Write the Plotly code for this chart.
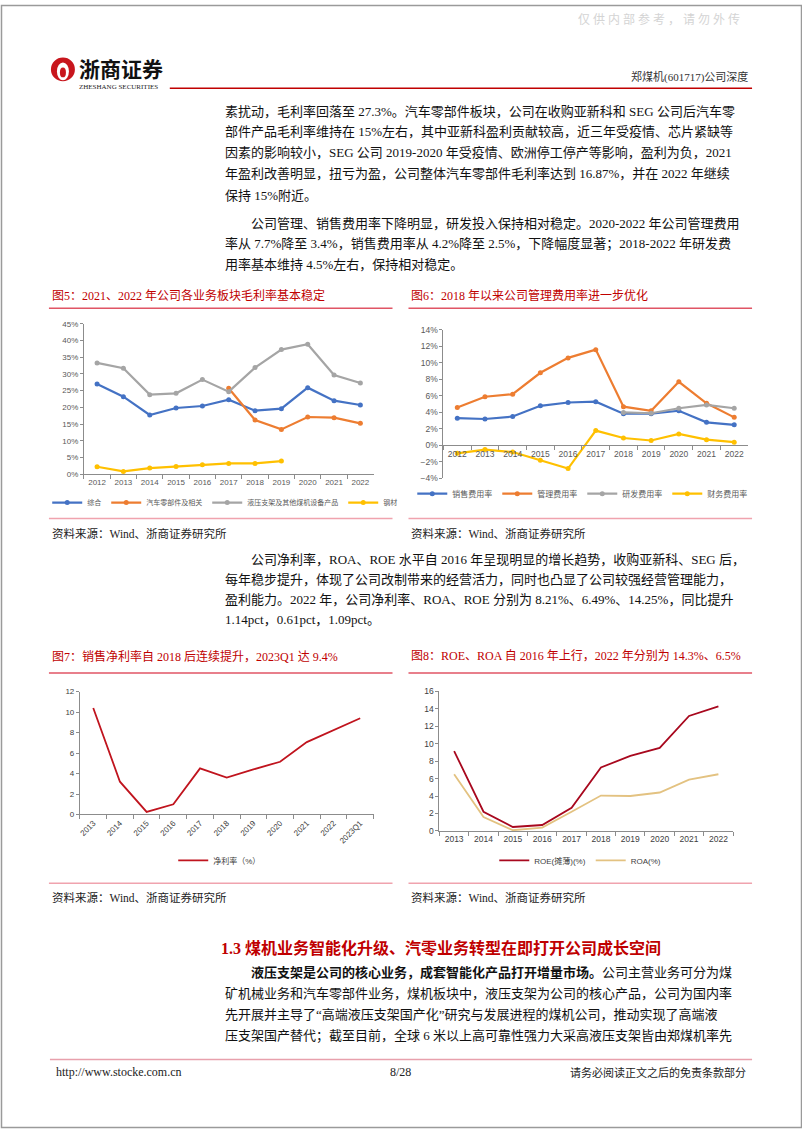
import plotly.graph_objects as go

W, H = 802, 1133
def fx(x): return x / W
def fy(y): return 1 - y / H

# ---------------- data ----------------
years_a = ["2012", "2013", "2014", "2015", "2016", "2017", "2018", "2019", "2020", "2021", "2022"]
gm_total = [27.0, 23.2, 17.7, 19.8, 20.4, 22.3, 19.0, 19.6, 25.9, 22.0, 20.7]
gm_auto = [None, None, None, None, None, 25.7, 16.2, 13.4, 17.1, 16.9, 15.2]
gm_coal = [33.3, 31.7, 23.8, 24.2, 28.3, 24.7, 31.9, 37.3, 38.9, 29.7, 27.3]
gm_steel = [2.2, 0.8, 1.8, 2.3, 2.8, 3.2, 3.2, 3.9, None, None, None]
gm_names = ["综合", "汽车零部件及相关", "液压支架及其他煤机设备产品", "钢材"]

exp_sales = [3.3, 3.2, 3.5, 4.8, 5.2, 5.3, 3.85, 3.85, 4.2, 2.8, 2.5]
exp_admin = [4.6, 5.9, 6.2, 8.8, 10.6, 11.6, 4.7, 4.2, 7.7, 5.1, 3.4]
exp_rd = [None, None, None, None, None, None, 4.0, 3.9, 4.5, 4.9, 4.5]
exp_fin = [-0.95, -0.5, -0.8, -1.8, -2.8, 1.8, 0.9, 0.6, 1.4, 0.7, 0.4]
exp_names = ["销售费用率", "管理费用率", "研发费用率", "财务费用率"]

years_c = ["2013", "2014", "2015", "2016", "2017", "2018", "2019", "2020", "2021", "2022", "2023Q1"]
net_margin = [10.4, 3.2, 0.25, 1.0, 4.5, 3.6, 4.4, 5.15, 7.07, 8.21, 9.4]

years_d = ["2013", "2014", "2015", "2016", "2017", "2018", "2019", "2020", "2021", "2022"]
roe = [9.15, 2.2, 0.45, 0.68, 2.65, 7.26, 8.6, 9.5, 13.16, 14.25]
roa = [6.5, 1.6, 0.08, 0.38, 2.2, 4.05, 4.0, 4.4, 5.88, 6.49]

# ---------------- styles ----------------
BLUE, ORANGE, GRAY, GOLD = "#4472C4", "#ED7D31", "#A5A5A5", "#FFC000"
RED = "#C00000"
SERIF = "Liberation Serif, Noto Sans CJK SC"
SANS = "Liberation Sans, Noto Sans CJK SC"
TICK5 = dict(size=8, color="#595959", family=SANS)

fig = go.Figure()

for name, vals, col in zip(gm_names, [gm_total, gm_auto, gm_coal, gm_steel], [BLUE, ORANGE, GRAY, GOLD]):
    fig.add_trace(go.Scatter(x=years_a, y=vals, name=name, mode="lines+markers",
                             line=dict(color=col, width=2.2), marker=dict(size=5, color=col),
                             xaxis="x", yaxis="y", legend="legend"))

for name, vals, col in zip(exp_names, [exp_sales, exp_admin, exp_rd, exp_fin], [BLUE, ORANGE, GRAY, GOLD]):
    fig.add_trace(go.Scatter(x=years_a, y=vals, name=name, mode="lines+markers",
                             line=dict(color=col, width=2.2), marker=dict(size=5, color=col),
                             xaxis="x2", yaxis="y2", legend="legend2"))

fig.add_trace(go.Scatter(x=years_c, y=net_margin, name="净利率（%）", mode="lines",
                         line=dict(color="#C0141E", width=1.8), xaxis="x3", yaxis="y3", legend="legend3"))

fig.add_trace(go.Scatter(x=years_d, y=roe, name="ROE(摊薄)(%)", mode="lines",
                         line=dict(color="#A8081E", width=1.8), xaxis="x4", yaxis="y4", legend="legend4"))
fig.add_trace(go.Scatter(x=years_d, y=roa, name="ROA(%)", mode="lines",
                         line=dict(color="#E3C281", width=1.8), xaxis="x4", yaxis="y4", legend="legend4"))

def xax(d0, d1, n, **kw):
    a = dict(domain=[fx(d0), fx(d1)], type="category", range=[-0.5, n - 0.5], showline=True,
             linecolor="#8c8c8c", linewidth=1, ticks="outside", tickson="boundaries", ticklen=4,
             tickcolor="#8c8c8c", showgrid=False, zeroline=False, tickfont=TICK5, fixedrange=True,
             tickangle=0)
    a.update(kw)
    return a

def yax(top, bot, rng, dt, **kw):
    a = dict(domain=[fy(bot), fy(top)], range=rng, dtick=dt, showline=True, linecolor="#8c8c8c",
             linewidth=1, ticks="outside", ticklen=3, tickcolor="#8c8c8c", showgrid=False,
             zeroline=False, tickfont=TICK5, fixedrange=True)
    a.update(kw)
    return a

zero6 = 477.7 - (477.7 - 327.7) * 4 / 18

layout = dict(
    width=W, height=H, autosize=False, margin=dict(l=0, r=0, t=0, b=0),
    paper_bgcolor="white", plot_bgcolor="white",
    xaxis=xax(83, 373, 11, anchor="y"),
    yaxis=yax(321.7, 473.3, [0, 45], 5, anchor="x", ticksuffix="%"),
    xaxis2=xax(443, 748, 11, anchor="free", position=fy(zero6), tickfont=dict(size=8.5, color="#595959", family=SANS)),
    yaxis2=yax(327.7, 477.7, [-4, 14], 2, anchor="x2", ticksuffix="%", tickfont=dict(size=8.5, color="#595959", family=SANS)),
    xaxis3=xax(79, 373, 11, anchor="y3", tickangle=-45, tickfont=dict(size=8, color="#404040", family=SANS)),
    yaxis3=yax(692.7, 816.7, [0, 12], 2, anchor="x3", tickfont=dict(size=8, color="#404040", family=SANS)),
    xaxis4=xax(439, 733, 10, anchor="y4", tickfont=dict(size=8.5, color="#404040", family=SANS)),
    yaxis4=yax(692.3, 833.3, [0, 16], 2, anchor="x4", tickfont=dict(size=8.5, color="#404040", family=SANS)),
)

def leg(x, y, size=8, color="#595959"):
    return dict(x=fx(x), y=fy(y), xanchor="center", yanchor="middle", orientation="h",
                font=dict(size=size, color=color, family=SANS), bgcolor="rgba(0,0,0,0)",
                itemwidth=30, tracegroupgap=0)

layout["legend"] = leg(224, 502, 7)
layout["legend2"] = leg(582, 493, 8)
layout["legend3"] = leg(219, 863, 8, "#404040")
layout["legend4"] = leg(580, 863, 8, "#404040")
layout["showlegend"] = True

ann = []
def txt(x, y, s, size=13, color="#111111", anchor="left", family=SERIF):
    ann.append(dict(x=fx(x), y=fy(y), xref="paper", yref="paper", text=s, showarrow=False,
                    xanchor=anchor, yanchor="middle", font=dict(size=size, color=color, family=family)))

# header
txt(742, 15, "仅 供 内 部 参 考 ， 请 勿 外 传", 12, "#d4d4d4", "right")
txt(76, 64, "<b>浙商证券</b>", 21, "#111111", "left", "Noto Sans CJK SC")
txt(76, 83, "ZHESHANG SECURITIES", 7, "#222222", "left", "Liberation Serif")
txt(750, 73, "郑煤机(601717)公司深度", 11, "#333333", "right")

# paragraph 1 & 2
P = 222
IND = 248
para1 = [
    "素扰动，毛利率回落至 27.3%。汽车零部件板块，公司在收购亚新科和 SEG 公司后汽车零",
    "部件产品毛利率维持在 15%左右，其中亚新科盈利贡献较高，近三年受疫情、芯片紧缺等",
    "因素的影响较小，SEG 公司 2019-2020 年受疫情、欧洲停工停产等影响，盈利为负，2021",
    "年盈利改善明显，扭亏为盈，公司整体汽车零部件毛利率达到 16.87%，并在 2022 年继续",
    "保持 15%附近。",
]
for s, y in zip(para1, [107, 128, 149, 170, 192]):
    txt(P, y, s)
para2 = [
    "公司管理、销售费用率下降明显，研发投入保持相对稳定。2020-2022 年公司管理费用",
    "率从 7.7%降至 3.4%，销售费用率从 4.2%降至 2.5%，下降幅度显著；2018-2022 年研发费",
    "用率基本维持 4.5%左右，保持相对稳定。",
]
for i, (s, y) in enumerate(zip(para2, [220, 241, 262])):
    txt(IND if i == 0 else P, y, s)

# figure titles / sources
txt(49, 293, "图5：2021、2022 年公司各业务板块毛利率基本稳定", 12, RED)
txt(409, 293, "图6：2018 年以来公司管理费用率进一步优化", 12, RED)
txt(49, 533, "资料来源：Wind、浙商证券研究所", 11.5, "#222222")
txt(409, 533, "资料来源：Wind、浙商证券研究所", 11.5, "#222222")

para3 = [
    "公司净利率，ROA、ROE 水平自 2016 年呈现明显的增长趋势，收购亚新科、SEG 后，",
    "每年稳步提升，体现了公司改制带来的经营活力，同时也凸显了公司较强经营管理能力，",
    "盈利能力。2022 年，公司净利率、ROA、ROE 分别为 8.21%、6.49%、14.25%，同比提升",
    "1.14pct，0.61pct，1.09pct。",
]
for i, (s, y) in enumerate(zip(para3, [559, 580, 600, 620])):
    txt(IND if i == 0 else P, y, s)

txt(49, 657, "图7：销售净利率自 2018 后连续提升，2023Q1 达 9.4%", 12, RED)
txt(409, 657, "图8：ROE、ROA 自 2016 年上行，2022 年分别为 14.3%、6.5%", 12, RED)
txt(49, 900, "资料来源：Wind、浙商证券研究所", 11.5, "#222222")
txt(409, 900, "资料来源：Wind、浙商证券研究所", 11.5, "#222222")

txt(218, 951, "<b>1.3 煤机业务智能化升级、汽零业务转型在即打开公司成长空间</b>", 16, RED)
para4 = [
    "<b>液压支架是公司的核心业务，成套智能化产品打开增量市场。</b>公司主营业务可分为煤",
    "矿机械业务和汽车零部件业务，煤机板块中，液压支架为公司的核心产品，公司为国内率",
    "先开展并主导了“高端液压支架国产化”研究与发展进程的煤机公司，推动实现了高端液",
    "压支架国产替代；截至目前，全球 6 米以上高可靠性强力大采高液压支架皆由郑煤机率先",
]
for i, (s, y) in enumerate(zip(para4, [976, 997, 1018, 1040])):
    txt(IND if i == 0 else P, y, s)

# footer
txt(53, 1077, "http://www.stocke.com.cn", 12, "#222222")
txt(400, 1077, "8/28", 12, "#222222", "center")
txt(748, 1077, "请务必阅读正文之后的免责条款部分", 11, "#222222", "right")

layout["annotations"] = ann

shapes = []
def hline(x0, x1, y, color, w=1.5):
    shapes.append(dict(type="line", xref="paper", yref="paper", x0=fx(x0), x1=fx(x1),
                       y0=fy(y), y1=fy(y), line=dict(color=color, width=w)))

# page frame
shapes.append(dict(type="rect", xref="paper", yref="paper", x0=fx(0.5), x1=fx(801.5),
                   y0=fy(1132.5), y1=fy(0.5), line=dict(color="#9a9a9a", width=1.5)))
# logo
shapes.append(dict(type="circle", xref="paper", yref="paper", x0=fx(50), x1=fx(74),
                   y0=fy(77), y1=fy(53), fillcolor="#C8161D", line=dict(width=0)))
shapes.append(dict(type="circle", xref="paper", yref="paper", x0=fx(56), x1=fx(68),
                   y0=fy(76), y1=fy(58), fillcolor="white", line=dict(width=0)))
shapes.append(dict(type="circle", xref="paper", yref="paper", x0=fx(59), x1=fx(65),
                   y0=fy(73), y1=fy(63), fillcolor="#C8161D", line=dict(width=0)))
hline(169, 752, 84, "#C00000", 1.5)
# figure frames
for y, c in [(306, "#E05565"), (518, "#F0A3AE"), (674, "#E05565"), (886, "#F0A3AE")]:
    hline(48, 392, y, c)
    hline(408, 752, y, c)
hline(49, 752, 1064, "#E8A0AC", 1.5)

layout["shapes"] = shapes
fig.update_layout(**layout)
fig.write_html("out.html")
